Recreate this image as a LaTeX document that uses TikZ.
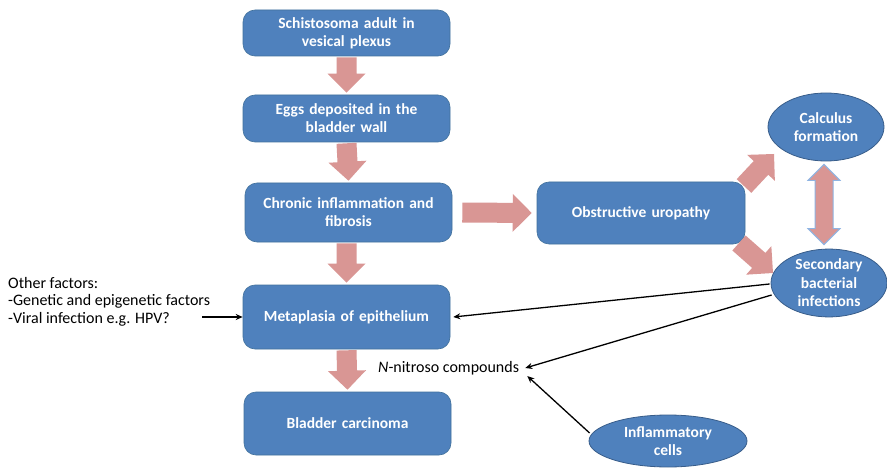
\documentclass[tikz,border=0pt]{standalone}
\usepackage{fontspec}
\setmainfont{Carlito}
\usetikzlibrary{calc}
\definecolor{boxblue}{HTML}{4F81BD}
\definecolor{boxedge}{HTML}{41719C}
\definecolor{elledge}{HTML}{385D8A}
\definecolor{pinkar}{HTML}{D99694}
\definecolor{lightedge}{HTML}{8EB4E3}
\tikzset{
  box/.style={draw=boxedge, line width=0.6pt, fill=boxblue, rounded corners=12pt,
    minimum width=207pt, text width=195pt, align=center, text=white,
    font=\fontsize{15.5}{18}\selectfont\bfseries, inner sep=0pt},
  oval/.style={draw=elledge, line width=0.8pt, fill=boxblue, ellipse, text=white,
    font=\fontsize{15.5}{18.5}\selectfont\bfseries, align=center, inner sep=0pt},
  plain/.style={font=\fontsize{16}{17.5}\selectfont, align=left, inner sep=0pt},
  thin/.style={draw=black, line width=1.3pt, -{Stealth[length=7pt,width=6pt]}},
  blockarrow/.style={fill=pinkar, draw=none, to path={
    let \p1=($(\tikztotarget)-(\tikztostart)$), \n1={atan2(\y1,\x1)}, \n2={veclen(\x1,\y1)} in
    ($(\tikztostart)+(\n1+90:10pt)$)
    -- ($(\tikztostart)+(\n1:{\n2*1pt-19pt})+(\n1+90:10pt)$)
    -- ($(\tikztostart)+(\n1:{\n2*1pt-19pt})+(\n1+90:19pt)$)
    -- (\tikztotarget)
    -- ($(\tikztostart)+(\n1:{\n2*1pt-19pt})+(\n1-90:19pt)$)
    -- ($(\tikztostart)+(\n1:{\n2*1pt-19pt})+(\n1-90:10pt)$)
    -- ($(\tikztostart)+(\n1-90:10pt)$) -- cycle}},
  dblarrow/.style={fill=pinkar, draw=lightedge, line width=1pt, to path={
    let \p1=($(\tikztotarget)-(\tikztostart)$), \n1={atan2(\y1,\x1)}, \n2={veclen(\x1,\y1)} in
    (\tikztostart)
    -- ($(\tikztostart)+(\n1:16pt)+(\n1+90:16pt)$)
    -- ($(\tikztostart)+(\n1:16pt)+(\n1+90:9pt)$)
    -- ($(\tikztostart)+(\n1:{\n2*1pt-16pt})+(\n1+90:9pt)$)
    -- ($(\tikztostart)+(\n1:{\n2*1pt-16pt})+(\n1+90:16pt)$)
    -- (\tikztotarget)
    -- ($(\tikztostart)+(\n1:{\n2*1pt-16pt})+(\n1-90:16pt)$)
    -- ($(\tikztostart)+(\n1:{\n2*1pt-16pt})+(\n1-90:9pt)$)
    -- ($(\tikztostart)+(\n1:16pt)+(\n1-90:9pt)$)
    -- ($(\tikztostart)+(\n1:16pt)+(\n1-90:16pt)$) -- cycle}}
}
\usetikzlibrary{shapes.geometric,arrows.meta}
\begin{document}
\begin{tikzpicture}[x=1pt,y=-1pt]
\useasboundingbox[fill=white] (0,0) rectangle (887,468);
% boxes
\node[box, minimum height=46pt] (b1) at (346.5,33) {Schistosoma adult in\\vesical plexus};
\node[box, minimum height=47pt] (b2) at (346.5,118.5) {Eggs deposited in the\\bladder wall};
\node[box, minimum height=59pt] (b3) at (348.5,212.5) {Chronic inflammation and\\fibrosis};
\node[box, minimum height=62pt, minimum width=208pt] (b4) at (641,213) {Obstructive uropathy};
\node[box, minimum height=64pt] (b5) at (346.5,317) {Metaplasia of epithelium};
\node[box, minimum height=63pt] (b6) at (347.5,423.5) {Bladder carcinoma};
% ellipses
\node[oval, minimum width=116pt, minimum height=68pt] (calc) at (826,127) {Calculus\\formation};
\node[oval, minimum width=116pt, minimum height=62pt] (sec) at (829,283) {Secondary\\bacterial\\infections};
\node[oval, minimum width=158pt, minimum height=52pt] (infl) at (668,441) {Inflammatory\\cells};
% plain texts
\node[plain, anchor=north west] (other) at (8,277) {Other factors:\\-Genetic and epigenetic factors\\-Viral infection e.g. HPV?};
\node[plain, anchor=west] (nitro) at (378,368) {\textit{N}-nitroso compounds};
% block arrows
\coordinate (a1s) at ($(b1.south)+(0,1)$); \coordinate (a1e) at ($(b2.north)+(0,-2)$);
\path[blockarrow] (a1s) to (a1e);
\coordinate (a2s) at ($(b2.south)+(0,1)$); \coordinate (a2e) at ($(b3.north)+(0,-2)$);
\path[blockarrow] (a2s) to (a2e);
\coordinate (a3s) at ($(b3.south)+(-2,1)$); \coordinate (a3e) at ($(b5.north)+(0,-2)$);
\path[blockarrow] (a3s) to (a3e);
\coordinate (a4s) at ($(b5.south)+(0,1)$); \coordinate (a4e) at ($(b6.north)+(0,-2)$);
\path[blockarrow] (a4s) to (a4e);
\coordinate (a5s) at ($(b3.east)+(10,0)$); \coordinate (a5e) at ($(b4.west)+(-5,0)$);
\path[blockarrow] (a5s) to (a5e);
\coordinate (a6s) at (744,186); \coordinate (a6e) at (774,154);
\path[blockarrow] (a6s) to (a6e);
\coordinate (a7s) at (739,243); \coordinate (a7e) at (773,273);
\path[blockarrow] (a7s) to (a7e);
% double arrow
\coordinate (d1) at ($(calc.south)+(-2,3)$); \coordinate (d2) at ($(sec.north)+(-5,-4)$);
\path[dblarrow] (d1) to (d2);
% thin arrows
\coordinate (o1) at (202,317);
\draw[thin] (o1) -- (b5.west);
\draw[thin] (sec.west) ++(-1,1) coordinate (s1) (s1) -- ($(b5.east)+(3,0)$);
\draw[thin] ($(sec.west)+(1,12)$) coordinate (s2) (s2) -- ($(nitro.east)+(6,0)$);
\draw[thin] ($(infl.west)+(1,-8)$) coordinate (i1) (i1) -- ($(nitro.east)+(8,8)$);
\end{tikzpicture}
\end{document}
